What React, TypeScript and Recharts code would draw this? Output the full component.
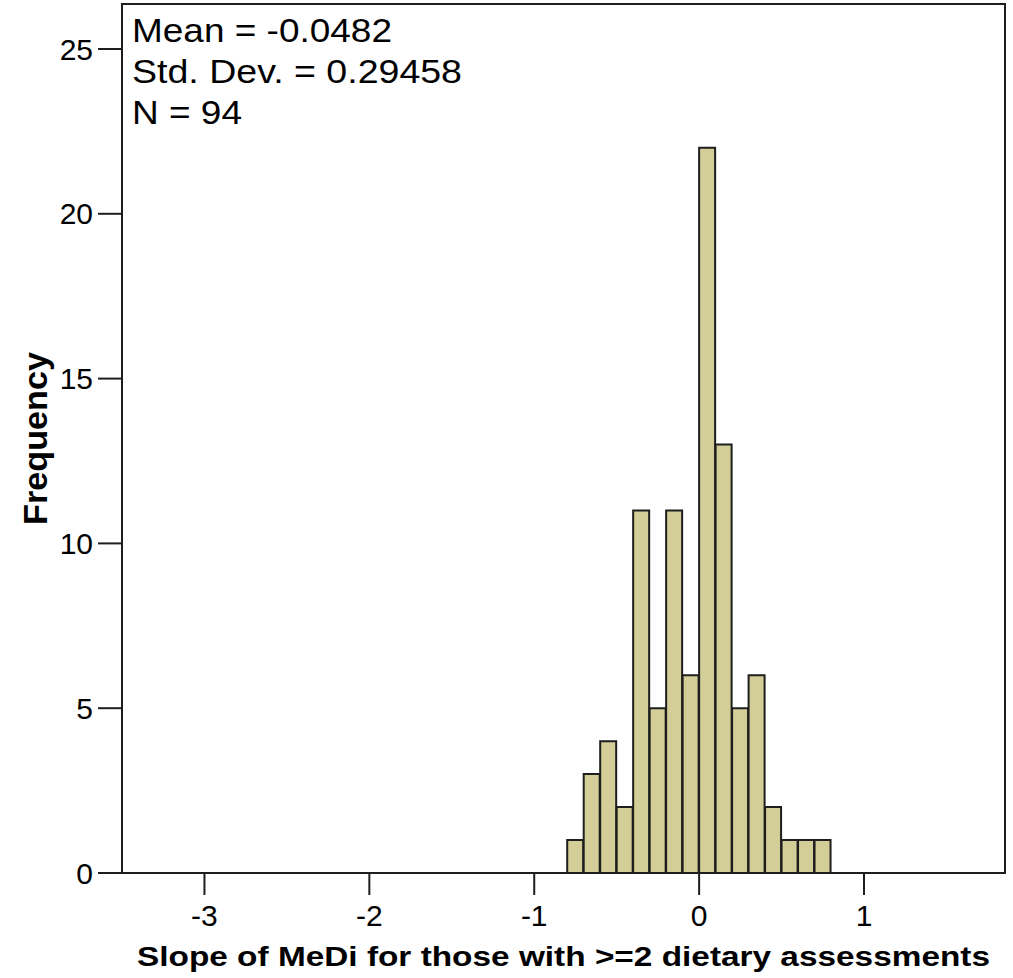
import React from 'react';
import { ComposedChart, Bar, XAxis, YAxis, ReferenceArea, Customized } from 'recharts';

// histogram bins (width 0.1), centres and counts
const binCenters = [-0.75, -0.65, -0.55, -0.45, -0.35, -0.25, -0.15, -0.05, 0.05, 0.15, 0.25, 0.35, 0.45, 0.55, 0.65, 0.75];
const frequencies = [1, 3, 4, 2, 11, 5, 11, 6, 22, 13, 5, 6, 2, 1, 1, 1];

const xTicks = [-3, -2, -1, 0, 1];
const yTicks = [0, 5, 10, 15, 20, 25];
const xDomain: [number, number] = [-3.5, 1.855];
const yDomain: [number, number] = [0, 26.365];

const statLines = ['Mean = -0.0482', 'Std. Dev. = 0.29458', 'N = 94'];
const statWidths = [260, 330, 110];

const data = binCenters.map((x, i) => ({ x, count: frequencies[i] }));

const FONT = '"Liberation Sans", Arial, Helvetica, sans-serif';
const INK = '#1e1e1e';

const Stats = () => (
  <g>
    {statLines.map((s, i) => (
      <text
        key={s}
        x={132}
        y={42 + i * 41}
        fontFamily={FONT}
        fontSize={33}
        fill="#000"
        textLength={statWidths[i]}
        lengthAdjust="spacingAndGlyphs"
      >
        {s}
      </text>
    ))}
  </g>
);

export default function App() {
  return (
    <div style={{ position: 'absolute', left: 0, top: 0, background: '#fff' }}>
      <ComposedChart
        width={1013}
        height={978}
        data={data}
        margin={{ top: 4, right: 8, bottom: 0, left: 0 }}
        barCategoryGap={0}
        barGap={0}
      >
        <XAxis
          type="number"
          dataKey="x"
          domain={xDomain}
          ticks={xTicks}
          allowDataOverflow
          height={105}
          tickSize={22}
          tickMargin={10}
          axisLine={{ stroke: INK, strokeWidth: 2 }}
          tickLine={{ stroke: INK, strokeWidth: 2 }}
          tick={{ fill: '#000', fontSize: 30, fontFamily: FONT }}
          label={{
            content: (props: any) => {
              const vb = props.viewBox;
              return (
                <text
                  x={vb.x + vb.width / 2}
                  y={966}
                  textAnchor="middle"
                  fontFamily={FONT}
                  fontWeight="bold"
                  fontSize={28}
                  fill="#000"
                  textLength={853}
                  lengthAdjust="spacingAndGlyphs"
                >
                  Slope of MeDi for those with &gt;=2 dietary assessments
                </text>
              );
            },
          }}
        />
        <YAxis
          type="number"
          domain={yDomain}
          ticks={yTicks}
          allowDataOverflow
          width={122}
          tickSize={24}
          tickMargin={5}
          axisLine={{ stroke: INK, strokeWidth: 2 }}
          tickLine={{ stroke: INK, strokeWidth: 2 }}
          tick={{ fill: '#000', fontSize: 30, fontFamily: FONT }}
          label={{
            content: (props: any) => {
              const vb = props.viewBox;
              const cy = vb.y + vb.height / 2;
              return (
                <text
                  x={47}
                  y={cy}
                  transform={`rotate(-90, 47, ${cy})`}
                  textAnchor="middle"
                  fontFamily={FONT}
                  fontWeight="bold"
                  fontSize={34}
                  fill="#000"
                  textLength={173}
                  lengthAdjust="spacingAndGlyphs"
                >
                  Frequency
                </text>
              );
            },
          }}
        />
        <Bar dataKey="count" fill="#d3ce97" stroke={INK} strokeWidth={2} isAnimationActive={false} />
        <ReferenceArea
          x1={xDomain[0]}
          x2={xDomain[1]}
          y1={yDomain[0]}
          y2={yDomain[1]}
          fill="none"
          fillOpacity={0}
          stroke={INK}
          strokeWidth={2}
        />
        <Customized component={Stats} />
      </ComposedChart>
    </div>
  );
}
